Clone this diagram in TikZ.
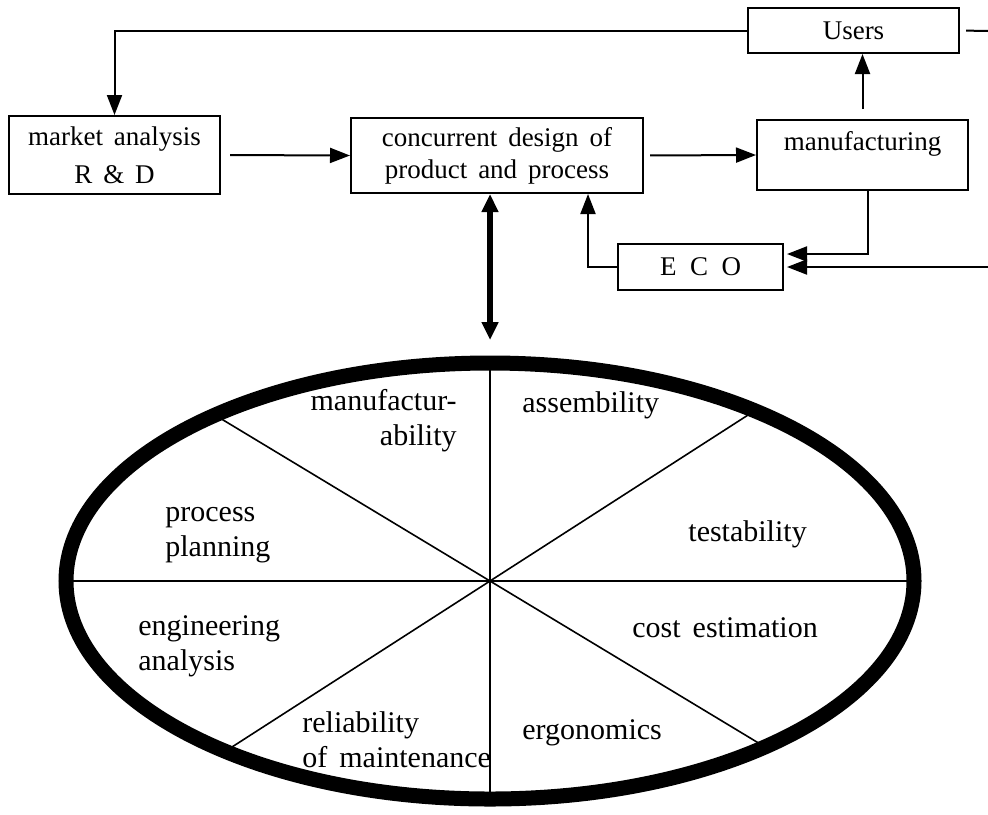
\documentclass[tikz,border=0pt]{standalone}
\usepackage{fontspec}
\setmainfont{Liberation Serif}[WordSpace=1.6]
\usetikzlibrary{arrows.meta,positioning,calc}
\tikzset{
  blk/.style={draw, line width=1pt, inner sep=0pt, align=center,
    font=\fontsize{13.5}{16}\selectfont},
  flow/.style={-{Triangle[length=10pt,width=7.5pt]}, line width=1pt},
  link/.style={line width=1pt},
  bothway/.style={{Triangle[length=9pt,width=8pt]}-{Triangle[length=9pt,width=8pt]},
    line width=3pt},
  % the wheel of design aspects
  rim/.style={line width=7.5pt},
  spoke/.style={line width=0.8pt},
  aspect/.style={inner sep=0pt, font=\fontsize{15}{17.5}\selectfont},
}
\begin{document}
\begin{tikzpicture}[x=0.5pt,y=-0.5pt]
  \useasboundingbox (0,0) rectangle (988,814);

  % process chain
  \node[blk, minimum width=105.5pt, minimum height=39pt,
        font=\fontsize{13.5}{19}\selectfont] (market) at (114.5,155) {market analysis\\R \& D};
  \node[blk, minimum width=146pt, minimum height=37.5pt] (design) at (497,155.5)
        {concurrent design of\\product and process};
  \node[blk, minimum width=105.5pt, text height=15pt, text depth=20pt] (manuf) at (862.5,155)
        {manufacturing};
  \node[blk, minimum width=105.5pt, minimum height=22.5pt] (users) at (853.5,30.5) {Users};
  \node[blk, minimum width=82.5pt, minimum height=23pt] (eco) at (700.5,267)
        {E\enspace C\enspace O};

  \coordinate (usersout) at (988,31);
  \coordinate (ecoin) at (988,267);
  \coordinate (ecoturn) at (588,267);
  \coordinate (hub) at (490,581);
  \coordinate (wheeltop) at (490,340);

  \draw[flow] (users.west) -| (market.north);
  \draw[link, shorten <=3pt] (users.east) -- (usersout);
  \draw[flow, shorten <=4.5pt] (market.east) -- (design.west);
  \draw[flow, shorten <=3pt] (design.east) -- (manuf.west);
  \draw[flow, shorten <=5pt] (manuf.north) -- (manuf.north |- users.south);
  \draw[flow, shorten >=1.5pt] ([xshift=2.5pt]manuf.south) |- ([yshift=6.5pt]eco.east);
  \draw[flow, shorten >=1.5pt] (ecoin) -- (eco.east);
  \draw[flow] (eco.west) -| (ecoturn |- design.south);
  \draw[bothway] (wheeltop |- design.south) -- (wheeltop);

  % wheel
  \begin{scope}
    \clip (hub) ellipse [x radius=424, y radius=218];
    \draw[spoke] (hub) ++(-450,0) -- ++(900,0);
    \draw[spoke] (hub) ++(0,-230) -- ++(0,460);
    \draw[spoke] (hub) ++(-300,-181) -- ++(600,362);
    \draw[spoke] (hub) ++(300,-193) -- ++(-600,386);
  \end{scope}
  \draw[rim] (hub) ellipse [x radius=424, y radius=218];

  \node[aspect, anchor=east, align=right] (mfg) at (457,421) {manufactur-\\ability};
  \node[aspect, anchor=west] (asm) at (522,405) {assembility};
  \node[aspect, anchor=west, align=left] (plan) at (165,535) {process\\planning};
  \node[aspect, anchor=west] (test) at (688,534) {testability};
  \node[aspect, anchor=west, align=left] (eng) at (138,646) {engineering\\analysis};
  \node[aspect, anchor=west] (cost) at (632,628) {cost estimation};
  \node[aspect, anchor=west, align=left] (rel) at (302,740) {reliability\\of maintenance};
  \node[aspect, anchor=west] (ergo) at (522,733) {ergonomics};
\end{tikzpicture}
\end{document}
